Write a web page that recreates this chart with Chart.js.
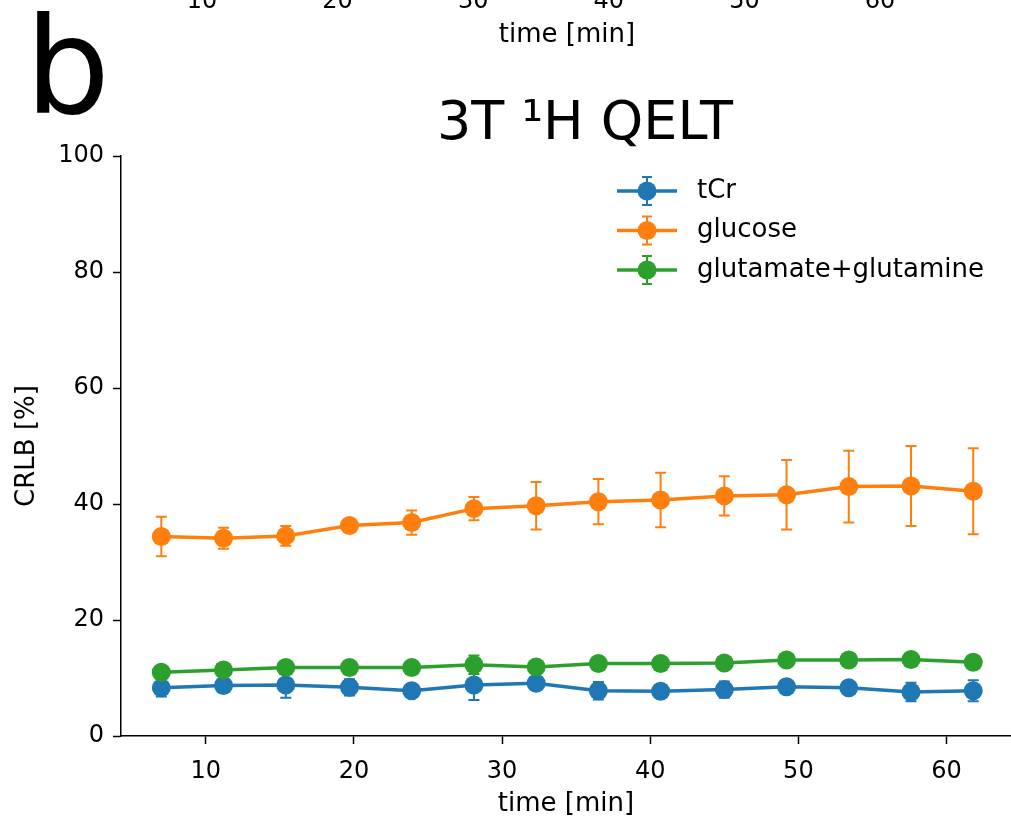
<!DOCTYPE html>
<html>
<head>
<meta charset="utf-8">
<script src="https://cdn.jsdelivr.net/npm/chart.js@4.4.1/dist/chart.umd.min.js"></script>
<style>
  html, body { margin: 0; padding: 0; background: #fff; }
  #chart { display: block; }
</style>
</head>
<body>
<canvas id="chart" width="1011" height="820"></canvas>
<script>
const TIME_MIN = [7.0, 11.2, 15.4, 19.7, 23.9, 28.1, 32.3, 36.5, 40.7, 45.0, 49.2, 53.4, 57.6, 61.8];

const TCR = [8.3, 8.7, 8.8, 8.4, 7.8, 8.8, 9.1, 7.8, 7.7, 8.0, 8.5, 8.3, 7.6, 7.8];
const TCR_ERR = [1.5, 1.0, 2.2, 1.4, 1.0, 2.6, 1.0, 1.5, 1.0, 1.4, 1.1, 1.0, 1.6, 1.8];

const GLUCOSE = [34.4, 34.1, 34.5, 36.3, 36.8, 39.2, 39.7, 40.4, 40.7, 41.4, 41.6, 43.0, 43.1, 42.2];
const GLUCOSE_ERR = [3.4, 1.8, 1.7, 1.0, 2.1, 2.0, 4.1, 3.9, 4.7, 3.4, 6.0, 6.2, 6.9, 7.4];

const GLX = [11.0, 11.4, 11.8, 11.8, 11.8, 12.3, 11.9, 12.5, 12.5, 12.6, 13.1, 13.1, 13.2, 12.7];
const GLX_ERR = [0.8, 0.8, 0.9, 0.8, 0.8, 1.6, 0.8, 0.8, 0.8, 0.8, 0.8, 0.8, 0.8, 0.8];

const SERIES_LABELS = ["tCr", "glucose", "glutamate+glutamine"];
const X_TICKS = [10, 20, 30, 40, 50, 60];
const Y_TICKS = [0, 20, 40, 60, 80, 100];
// tick labels of the panel above, cut off by the crop
const TOP_PANEL_TICKS = [10, 20, 30, 40, 50, 60];

const FONT = "DejaVu Sans";
const COLORS = ["#1f77b4", "#ff7f0e", "#2ca02c"];

const seriesValues = [TCR, GLUCOSE, GLX];
const seriesErrors = [TCR_ERR, GLUCOSE_ERR, GLX_ERR];

function toPoints(values) {
  return TIME_MIN.map((t, i) => ({ x: t, y: values[i] }));
}

// vertical error bars with caps, drawn just under each dataset's line
const errorBars = {
  id: "errorBars",
  beforeDatasetDraw(chart, args) {
    const i = args.index;
    const { ctx, scales } = chart;
    const vals = seriesValues[i];
    const errs = seriesErrors[i];
    ctx.save();
    ctx.strokeStyle = COLORS[i];
    ctx.lineWidth = 2;
    vals.forEach((v, k) => {
      const x = scales.x.getPixelForValue(TIME_MIN[k]);
      const yTop = scales.y.getPixelForValue(v + errs[k]);
      const yBot = scales.y.getPixelForValue(v - errs[k]);
      ctx.beginPath();
      ctx.moveTo(x, yTop); ctx.lineTo(x, yBot);
      ctx.moveTo(x - 5.5, yTop); ctx.lineTo(x + 5.5, yTop);
      ctx.moveTo(x - 5.5, yBot); ctx.lineTo(x + 5.5, yBot);
      ctx.stroke();
    });
    ctx.restore();
  }
};

// legend, panel letter and the leftover axis of the panel above
const decorations = {
  id: "decorations",
  afterLayout(chart) {
    const t = chart.titleBlock;
    if (t) {
      const d = 585 - (t.left + t.right) / 2;
      t.left += d;
      t.right += d;
    }
  },
  afterDraw(chart) {
    const ctx = chart.ctx;
    ctx.save();
    ctx.fillStyle = "#000";

    ctx.font = `134px "${FONT}"`;
    ctx.textAlign = "left";
    ctx.textBaseline = "alphabetic";
    ctx.fillText("b", 25, 113);

    ctx.font = `24px "${FONT}"`;
    ctx.textAlign = "center";
    TOP_PANEL_TICKS.forEach(v => {
      ctx.fillText(String(v), 202 + (v - 10) * 13.56, 8);
    });
    ctx.font = `26px "${FONT}"`;
    ctx.fillText("time [min]", 567, 42);

    SERIES_LABELS.forEach((label, i) => {
      const y = 191 + i * 39.5;
      ctx.strokeStyle = COLORS[i];
      ctx.fillStyle = COLORS[i];
      ctx.lineWidth = 3.5;
      ctx.beginPath();
      ctx.moveTo(617, y); ctx.lineTo(677, y);
      ctx.stroke();
      ctx.lineWidth = 2;
      ctx.beginPath();
      ctx.moveTo(647, y - 14); ctx.lineTo(647, y + 14);
      ctx.moveTo(642, y - 14); ctx.lineTo(652, y - 14);
      ctx.moveTo(642, y + 14); ctx.lineTo(652, y + 14);
      ctx.stroke();
      ctx.beginPath();
      ctx.arc(647, y, 9.5, 0, Math.PI * 2);
      ctx.fill();
      ctx.fillStyle = "#000";
      ctx.font = `26px "${FONT}"`;
      ctx.textAlign = "left";
      ctx.textBaseline = "middle";
      ctx.fillText(label, 697, y);
    });
    ctx.restore();
  }
};

const datasets = SERIES_LABELS.map((label, i) => ({
  label,
  data: toPoints(seriesValues[i]),
  borderColor: COLORS[i],
  backgroundColor: COLORS[i],
  borderWidth: 3.5,
  pointRadius: 9.5,
  pointBorderWidth: 0,
  pointBackgroundColor: COLORS[i],
  tension: 0,
  order: 3 - i
}));

const axisGrid = {
  drawOnChartArea: false,
  drawTicks: true,
  tickLength: 8,
  tickWidth: 1.5,
  color: "#000"
};

new Chart(document.getElementById("chart"), {
  type: "line",
  data: { datasets },
  options: {
    responsive: false,
    animation: false,
    devicePixelRatio: 1,
    layout: { autoPadding: false, padding: { top: 0, left: 0, right: 0, bottom: 0 } },
    plugins: {
      legend: { display: false },
      tooltip: { enabled: false },
      title: {
        display: true,
        text: "3T \u00B9H QELT",
        color: "#000",
        font: { family: FONT, size: 54, weight: "normal", lineHeight: 1 },
        padding: { top: 98, bottom: 4 }
      }
    },
    scales: {
      x: {
        type: "linear",
        min: 4.28,
        max: 64.35,
        afterBuildTicks: s => { s.ticks = X_TICKS.map(v => ({ value: v })); },
        afterFit: s => { s.height = 84; },
        ticks: { color: "#000", font: { family: FONT, size: 24 }, padding: 13, maxRotation: 0 },
        grid: axisGrid,
        border: { display: true, color: "#000", width: 1.5 },
        title: {
          display: true,
          text: "time [min]",
          color: "#000",
          font: { family: FONT, size: 26 },
          padding: { top: 0, bottom: 0 }
        }
      },
      y: {
        type: "linear",
        min: 0,
        max: 100,
        afterBuildTicks: s => { s.ticks = Y_TICKS.map(v => ({ value: v })); },
        afterFit: s => { s.width = 121; },
        ticks: { color: "#000", font: { family: FONT, size: 24 }, padding: 9 },
        grid: axisGrid,
        border: { display: true, color: "#000", width: 1.5 },
        title: {
          display: true,
          text: "CRLB [%]",
          color: "#000",
          font: { family: FONT, size: 26 },
          padding: { top: 12, bottom: 0 }
        }
      }
    }
  },
  plugins: [errorBars, decorations]
});
</script>
</body>
</html>
